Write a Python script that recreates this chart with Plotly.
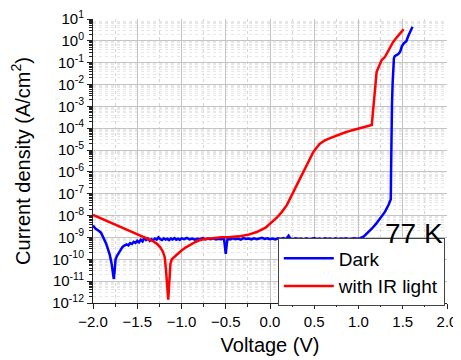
import plotly.graph_objects as go

# Dark curve: voltage (V) and log10 of current density (A/cm^2)
dark_v = [-2.00, -1.97, -1.94, -1.91, -1.89, -1.87, -1.85, -1.83, -1.81, -1.79,
          -1.775, -1.765, -1.755, -1.745, -1.73, -1.71, -1.69, -1.67, -1.65, -1.62,
          -1.60, -1.58, -1.56, -1.54, -1.52, -1.50, -1.48, -1.46, -1.44, -1.42,
          -1.40, -1.38, -1.36, -1.34, -1.32, -1.30, -1.28, -1.26, -1.24, -1.22,
          -1.20, -1.18, -1.16, -1.14, -1.12, -1.10, -1.08, -1.06, -1.04, -1.02,
          -1.00, -0.97, -0.94, -0.91, -0.88, -0.85, -0.82, -0.79, -0.76, -0.73,
          -0.70, -0.67, -0.64, -0.61, -0.58, -0.55, -0.52, -0.51, -0.50, -0.49,
          -0.48, -0.45, -0.42, -0.39, -0.36, -0.33, -0.30, -0.27, -0.24, -0.21,
          -0.18, -0.15, -0.12, -0.09, -0.06, -0.03, 0.00, 0.03, 0.06, 0.09,
          0.12, 0.15, 0.18, 0.21, 0.23, 0.26, 0.29, 0.32, 0.35, 0.38,
          0.41, 0.44, 0.47, 0.50, 0.53, 0.56, 0.59, 0.62, 0.65, 0.68,
          0.71, 0.74, 0.77, 0.80, 0.83, 0.86, 0.89, 0.92, 0.95, 0.98,
          1.02, 1.06, 1.10, 1.15, 1.20, 1.25, 1.30, 1.34, 1.365, 1.368,
          1.371, 1.378, 1.385, 1.392, 1.40, 1.41, 1.43, 1.45, 1.47, 1.49,
          1.51, 1.54, 1.56, 1.58, 1.61]
dark_log = [-8.45, -8.60, -8.68, -8.78, -8.95, -9.10, -9.30, -9.55, -9.80, -10.20,
            -10.60, -10.90, -10.50, -10.00, -9.85, -9.70, -9.55, -9.45, -9.38, -9.32,
            -9.36, -9.26, -9.30, -9.20, -9.25, -9.15, -9.22, -9.10, -9.18, -9.02,
            -9.12, -9.05, -9.15, -9.08, -9.12, -9.05, -9.10, -9.00, -9.08, -9.12,
            -9.04, -9.10, -9.06, -9.12, -9.05, -9.09, -9.03, -9.10, -9.06, -9.11,
            -9.04, -9.08, -9.02, -9.09, -9.05, -9.10, -9.06, -9.08, -9.03, -9.09,
            -9.05, -9.08, -9.04, -9.09, -9.06, -9.08, -9.05, -9.30, -9.75, -9.35,
            -9.06, -9.09, -9.04, -9.08, -9.05, -9.10, -9.03, -9.07, -9.05, -9.09,
            -9.04, -9.08, -9.05, -9.02, -9.07, -9.04, -9.08, -9.05, -9.09, -9.04,
            -9.07, -9.03, -9.08, -8.92, -9.05, -9.08, -9.04, -9.07, -9.05, -9.09,
            -9.04, -9.08, -9.06, -9.03, -9.08, -9.05, -9.09, -9.04, -9.07, -9.05,
            -9.09, -9.04, -9.08, -9.05, -9.07, -9.04, -9.08, -9.06, -9.04, -9.06,
            -9.03, -8.95, -8.80, -8.60, -8.37, -8.10, -7.82, -7.50, -7.25, -6.00,
            -4.50, -3.00, -2.00, -1.20, -0.80, -0.70, -0.66, -0.60, -0.50, -0.25,
            -0.12, -0.02, 0.20, 0.40, 0.65]

# With IR light curve
ir_v = [-2.00, -1.90, -1.80, -1.70, -1.60, -1.50, -1.40, -1.33, -1.28, -1.24,
        -1.21, -1.19, -1.175, -1.16, -1.15, -1.14, -1.125, -1.11, -1.08, -1.04,
        -1.00, -0.95, -0.90, -0.85, -0.80, -0.72, -0.65, -0.55, -0.45, -0.35,
        -0.25, -0.15, -0.05, 0.02, 0.08, 0.13, 0.19, 0.26, 0.34, 0.42,
        0.49, 0.56, 0.62, 0.68, 0.75, 0.83, 0.92, 1.02, 1.10, 1.15,
        1.205, 1.24, 1.262, 1.30, 1.356, 1.39, 1.43, 1.47, 1.51]
ir_log = [-7.97, -8.15, -8.32, -8.50, -8.68, -8.86, -9.02, -9.15, -9.28, -9.45,
          -9.65, -9.90, -10.50, -11.20, -11.85, -11.20, -10.20, -10.00, -9.88, -9.72,
          -9.60, -9.45, -9.33, -9.22, -9.13, -9.06, -9.04, -8.99, -8.98, -8.95,
          -8.88, -8.75, -8.55, -8.30, -8.08, -7.85, -7.52, -6.95, -6.30, -5.60,
          -5.08, -4.72, -4.55, -4.45, -4.33, -4.22, -4.10, -3.99, -3.90, -3.85,
          -1.42, -1.05, -0.88, -0.73, -0.34, -0.06, 0.15, 0.35, 0.53]

y_exps = list(range(-12, 2))
y_tickvals = [10.0 ** e for e in y_exps]
y_ticktext = ["10<sup>%d</sup>" % e for e in y_exps]

dark_j = [10.0 ** v for v in dark_log]
ir_j = [10.0 ** v for v in ir_log]

FONT = "Liberation Sans, Arial, sans-serif"

fig = go.Figure()
fig.add_trace(go.Scatter(x=dark_v, y=dark_j, mode="lines", name="Dark",
                         line=dict(color="#0000ff", width=2.5)))
fig.add_trace(go.Scatter(x=ir_v, y=ir_j, mode="lines", name="with IR light",
                         line=dict(color="#ff0000", width=2.5)))

fig.update_layout(
    width=453, height=352,
    margin=dict(l=85, r=14, t=11, b=57, autoexpand=False),
    paper_bgcolor="white", plot_bgcolor="white",
    font=dict(family=FONT, color="black", size=15),
    showlegend=True,
    legend=dict(x=0.522, y=-0.012, xanchor="left", yanchor="bottom",
                bgcolor="white", bordercolor="#444444", borderwidth=1,
                font=dict(size=19, family=FONT, color="black"),
                itemwidth=50, tracegroupgap=0),
    xaxis=dict(range=[-2, 2], dtick=0.5, tick0=-2, tickformat=".1f",
               automargin=False, ticklabeloverflow="allow",
               ticks="outside", ticklen=5, tickcolor="#222222",
               showline=True, linecolor="#222222", linewidth=1,
               showgrid=True, gridcolor="#c4c4c4", gridwidth=1,
               zeroline=False,
               minor=dict(dtick=0.25, ticks="outside", ticklen=3,
                          tickcolor="#222222", showgrid=True,
                          gridcolor="#d4d4d4", griddash="dot"),
               title=dict(text="Voltage (V)", font=dict(size=20), standoff=8),
               tickfont=dict(size=15)),
    xaxis2=dict(range=[-2, 2], overlaying="x", anchor="y", dtick=0.05,
                automargin=False,
                showticklabels=False, ticks="", showline=False,
                showgrid=True, gridcolor="#f0f0f0", gridwidth=1, griddash="dot",
                zeroline=False),
    yaxis=dict(type="log", range=[-12, 1], tickvals=y_tickvals, ticktext=y_ticktext,
               automargin=False, ticklabeloverflow="allow",
               ticks="outside", ticklen=5, tickcolor="#222222",
               showline=True, linecolor="#222222", linewidth=1,
               showgrid=True, gridcolor="#c4c4c4", gridwidth=1,
               zeroline=False,
               minor=dict(dtick="D1", ticks="outside", ticklen=3,
                          tickcolor="#222222", showgrid=True,
                          gridcolor="#e6e6e6", griddash="dot"),
               title=dict(text="Current density (A/cm<sup>2</sup>)",
                          font=dict(size=20), standoff=16),
               tickfont=dict(size=15)),
    annotations=[dict(text="77 K", x=0.995, y=0.246, xref="paper", yref="paper",
                      xanchor="right", yanchor="middle", showarrow=False,
                      font=dict(size=28, family=FONT, color="black"))],
)

fig.write_html("out.html")
